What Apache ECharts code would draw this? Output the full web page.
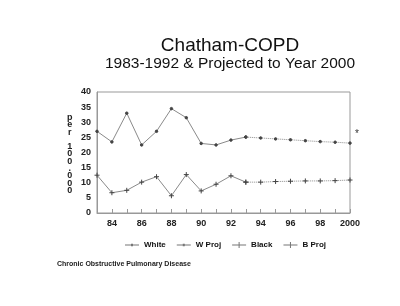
<!DOCTYPE html>
<html>
<head>
<meta charset="UTF-8">
<title>Chatham-COPD</title>
<script src="https://cdn.jsdelivr.net/npm/echarts@6/dist/echarts.min.js"></script>
</head>
<body style="margin:0;background:#fff">
<div id="main" style="width:400px;height:306px"></div>
<script>
var years = ['1983','1984','1985','1986','1987','1988','1989','1990','1991','1992','1993','1994','1995','1996','1997','1998','1999','2000'];
var white = [27, 23.5, 33, 22.5, 27, 34.5, 31.5, 23, 22.5, 24.1, 25.1, null, null, null, null, null, null, null];
var wProj = [null, null, null, null, null, null, null, null, null, null, 25.1, 24.8, 24.5, 24.2, 23.9, 23.6, 23.4, 23.1];
var black = [12.5, 6.7, 7.5, 10.2, 12, 5.7, 12.7, 7.3, 9.5, 12.3, 10.2, null, null, null, null, null, null, null];
var bProj = [null, null, null, null, null, null, null, null, null, null, 10.2, 10.2, 10.4, 10.5, 10.6, 10.6, 10.7, 10.9];

var plus = 'path://M0,5L10,5M5,0L5,10';
var iconDot = 'path://M0,4.5h14v1h-14zM6,3.8h2v2.4h-2z';
var iconPlus = 'path://M0,4.5h14v1h-14zM6.5,2h1v6h-1z';
var chart = echarts.init(document.getElementById('main'));
var font = 'Liberation Sans, Arial, sans-serif';

function line(name, data, dotted, sym) {
    return {
        name: name,
        type: 'line',
        data: data,
        connectNulls: false,
        symbol: sym,
        symbolSize: sym === 'circle' ? 2.5 : 5,
        lineStyle: { color: '#8a8a8a', width: 1, type: dotted ? 'dotted' : 'solid' },
        itemStyle: { color: '#444', borderColor: '#444', borderWidth: 1 },
        animation: false
    };
}

chart.setOption({
    backgroundColor: '#fff',
    title: {
        text: 'Chatham-COPD',
        subtext: '1983-1992 & Projected to Year 2000',
        left: 225, top: 31, textAlign: 'center', itemGap: 1,
        textStyle: { fontFamily: font, fontWeight: 'normal', fontSize: 19, color: '#111' },
        subtextStyle: { fontFamily: font, fontSize: 15.5, color: '#111' }
    },
    grid: { left: 97, right: 50, top: 92, bottom: 93, show: true, borderColor: '#999', borderWidth: 1 },
    legend: {
        data: [
            { name: 'White', icon: iconDot },
            { name: 'W Proj', icon: iconDot },
            { name: 'Black', icon: iconPlus },
            { name: 'B Proj', icon: iconPlus }
        ],
        top: 236, left: 120, itemWidth: 14, itemHeight: 10, itemGap: 11,
        itemStyle: { color: '#777', borderWidth: 0 },
        lineStyle: { width: 0 },
        textStyle: { fontFamily: font, fontSize: 8, fontWeight: 'bold', color: '#111' }
    },
    xAxis: {
        type: 'category', data: years, boundaryGap: false,
        axisLine: { lineStyle: { color: '#999' } },
        axisTick: { show: true, interval: 0, length: 4, inside: true, lineStyle: { color: '#999' } },
        axisLabel: {
            fontFamily: font, fontSize: 9, fontWeight: 'bold', color: '#222', margin: 6,
            interval: function (i, v) { return (+v) % 2 === 0; },
            formatter: function (v) { return v === '2000' ? '2000' : v.slice(2); }
        },
        splitLine: { show: false }
    },
    yAxis: {
        type: 'value', min: 0, max: 40, interval: 5,
        axisLine: { show: true, lineStyle: { color: '#999' } },
        axisTick: { show: false },
        axisLabel: { fontFamily: font, fontSize: 9, fontWeight: 'bold', color: '#222', margin: 6 },
        splitLine: { show: false }
    },
    graphic: [
        { type: 'text', left: 67, top: 113, style: { text: 'p\ne\nr\n\n1\n0\n0\n.\n0\n0\n0', font: 'bold 9px ' + font, fill: '#222', lineHeight: 7.3, textAlign: 'center' } },
        { type: 'text', left: 355, top: 129, style: { text: '*', font: '10px ' + font, fill: '#333' } },
        { type: 'text', left: 57, top: 261, style: { text: 'Chronic Obstructive Pulmonary Disease', font: 'bold 7px ' + font, fill: '#222' } }
    ],
    series: [
        line('White', white, false, 'circle'),
        line('W Proj', wProj, true, 'circle'),
        line('Black', black, false, plus),
        line('B Proj', bProj, true, plus)
    ]
});
</script>
</body>
</html>
